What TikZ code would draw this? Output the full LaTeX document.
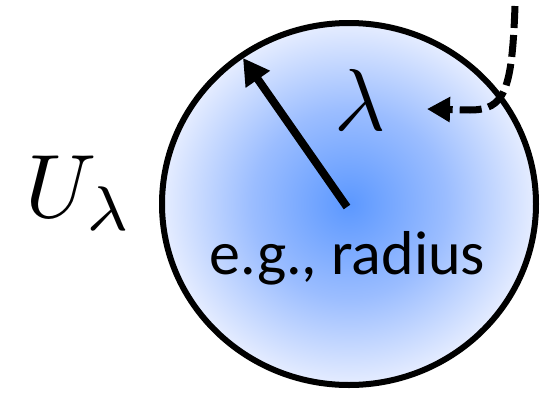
\documentclass[tikz,border=0pt]{standalone}
\usepackage{graphicx}
\usepackage{fontspec}
\setmainfont{Carlito}
\usetikzlibrary{arrows.meta}
\definecolor{blobin}{RGB}{92,152,255}
\definecolor{blobmid}{RGB}{155,189,255}
\definecolor{blobout}{RGB}{230,237,255}
\pgfdeclareradialshading{blob}{\pgfpoint{0bp}{0bp}}{color(0bp)=(blobin); color(13bp)=(blobmid); color(25bp)=(blobout); color(50bp)=(blobout)}
\tikzset{
  lbl/.style={inner sep=0pt, outer sep=0pt},
  radarrow/.style={line width=8pt, -{Triangle[length=26pt,width=28pt]}},
  dasharrow/.style={line width=7pt, dash pattern=on 22pt off 7pt, -{Triangle[length=23pt,width=24pt]}}
}
\begin{document}
\begin{tikzpicture}[x=1pt,y=-1pt]
\useasboundingbox (0,0) rectangle (541,394);
\shade[shading=blob] (349,204) ellipse [x radius=187, y radius=181];
\draw[line width=6pt] (349,204) ellipse [x radius=187, y radius=181];
\coordinate (c) at (347,207);
\coordinate (rimpt) at (243,58);
\draw[radarrow] (c) -- (rimpt);
\node[lbl] (lam) at (360,100) {\scalebox{8.8}{$\lambda$}};
\node[lbl, anchor=base] (eg) at (347.5,274) {\fontsize{62}{70}\selectfont e.g., radius};
\node[lbl, anchor=base west] (U) at (25,217) {\scalebox{9}{$U_\lambda$}};
\coordinate (dstart) at (515,6);
\coordinate (dend) at (427,109);
\draw[dasharrow] (dstart) .. controls (512,90) and (505,110) .. (470,110) -- (dend);
\end{tikzpicture}
\end{document}
